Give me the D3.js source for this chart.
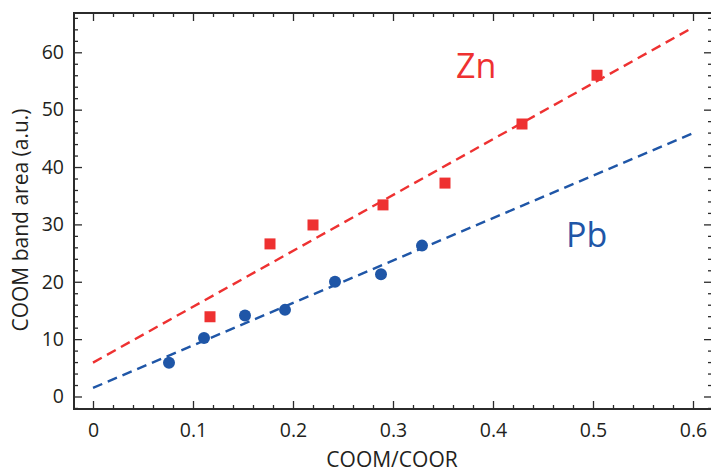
<!DOCTYPE html>
<html>
<head>
<meta charset="utf-8">
<script src="https://cdn.jsdelivr.net/npm/d3@7"></script>
<style>
  body { margin: 0; background: #fff; }
  text { font-family: "Open Sans", sans-serif; fill: #231f20; }
</style>
</head>
<body>
<svg width="711" height="472"></svg>
<script>
/* data */
var znX = [0.117, 0.177, 0.220, 0.290, 0.352, 0.429, 0.504];
var znY = [13.9, 26.6, 29.9, 33.4, 37.2, 47.5, 56.0];
var pbX = [0.076, 0.111, 0.152, 0.192, 0.242, 0.288, 0.329];
var pbY = [5.9, 10.2, 14.1, 15.1, 20.0, 21.3, 26.3];
// linear fits: [intercept, slope]
var znFit = [5.9, 97.4];
var pbFit = [1.5, 74.0];
var fitRange = [0, 0.6];
var xTicks = [0, 0.1, 0.2, 0.3, 0.4, 0.5, 0.6];
var yTicks = [0, 10, 20, 30, 40, 50, 60];

var red = "#ee3131", blue = "#1f56a7", ink = "#2b2b2b";

var svg = d3.select("svg"),
    pLeft = 74, pRight = 712, pTop = 13, pBottom = 409;

var x = d3.scaleLinear().domain([-0.019, 0.619]).range([pLeft, pRight]),
    y = d3.scaleLinear().domain([-2.18, 66.85]).range([pBottom, pTop]);

var xMinor = d3.range(0, 0.62, 0.02).filter(function(v) { return Math.abs(v * 10 - Math.round(v * 10)) > 1e-6; });
var yMinor = d3.range(-2, 67, 2).filter(function(v) { return v % 10 !== 0; });

function axisStyle(g) {
  g.attr("font-size", 19.5).attr("font-family", "Open Sans, sans-serif");
  g.select(".domain").remove();
  g.selectAll("line").attr("stroke", ink).attr("stroke-width", 1.3);
  g.selectAll("text").attr("fill", ink);
}

// minor ticks first
svg.append("g").attr("transform", "translate(0," + pBottom + ")")
  .call(d3.axisBottom(x).tickValues(xMinor).tickSize(-4).tickFormat(""))
  .call(axisStyle);
svg.append("g").attr("transform", "translate(0," + pTop + ")")
  .call(d3.axisTop(x).tickValues(xMinor).tickSize(-4).tickFormat(""))
  .call(axisStyle);
svg.append("g").attr("transform", "translate(" + pLeft + ",0)")
  .call(d3.axisLeft(y).tickValues(yMinor).tickSize(-4).tickFormat(""))
  .call(axisStyle);
svg.append("g").attr("transform", "translate(" + pRight + ",0)")
  .call(d3.axisRight(y).tickValues(yMinor).tickSize(-4).tickFormat(""))
  .call(axisStyle);

// major ticks
svg.append("g").attr("transform", "translate(0," + pBottom + ")")
  .call(d3.axisBottom(x).tickValues(xTicks).tickSize(-8).tickPadding(14).tickFormat(d3.format("")))
  .call(axisStyle);
svg.append("g").attr("transform", "translate(0," + pTop + ")")
  .call(d3.axisTop(x).tickValues(xTicks).tickSize(-8).tickFormat(""))
  .call(axisStyle);
svg.append("g").attr("transform", "translate(" + pLeft + ",0)")
  .call(d3.axisLeft(y).tickValues(yTicks).tickSize(-8).tickPadding(10))
  .call(axisStyle);
svg.append("g").attr("transform", "translate(" + pRight + ",0)")
  .call(d3.axisRight(y).tickValues(yTicks).tickSize(-8).tickFormat(""))
  .call(axisStyle);

// frame
svg.append("rect")
  .attr("x", pLeft).attr("y", pTop)
  .attr("width", pRight - pLeft).attr("height", pBottom - pTop)
  .attr("fill", "none").attr("stroke", ink).attr("stroke-width", 2);

// fit lines
var line = d3.line()
  .x(function(d) { return x(d[0]); })
  .y(function(d) { return y(d[1]); });

function fitPts(f) {
  return fitRange.map(function(v) { return [v, f[0] + f[1] * v]; });
}

svg.append("path").datum(fitPts(znFit))
  .attr("d", line).attr("fill", "none")
  .attr("stroke", red).attr("stroke-width", 2.4).attr("stroke-dasharray", "10,6");
svg.append("path").datum(fitPts(pbFit))
  .attr("d", line).attr("fill", "none")
  .attr("stroke", blue).attr("stroke-width", 2.4).attr("stroke-dasharray", "10,6");

// points
var sq = 11;
svg.append("g").selectAll("rect")
  .data(d3.zip(znX, znY))
  .join("rect")
  .attr("x", function(d) { return x(d[0]) - sq / 2; })
  .attr("y", function(d) { return y(d[1]) - sq / 2; })
  .attr("width", sq).attr("height", sq)
  .attr("fill", red);

svg.append("g").selectAll("circle")
  .data(d3.zip(pbX, pbY))
  .join("circle")
  .attr("cx", function(d) { return x(d[0]); })
  .attr("cy", function(d) { return y(d[1]); })
  .attr("r", 6)
  .attr("fill", blue);

// series labels
svg.append("text").attr("x", 456).attr("y", 78)
  .attr("font-size", 34).style("fill", red).text("Zn");
svg.append("text").attr("x", 566).attr("y", 247)
  .attr("font-size", 34).style("fill", blue).text("Pb");

// axis titles
svg.append("text")
  .attr("x", 392).attr("y", 467)
  .attr("text-anchor", "middle").attr("font-size", 21)
  .text("COOM/COOR");
svg.append("text")
  .attr("transform", "translate(28,220) rotate(-90)")
  .attr("text-anchor", "middle").attr("font-size", 21)
  .text("COOM band area (a.u.)");
</script>
</body>
</html>
